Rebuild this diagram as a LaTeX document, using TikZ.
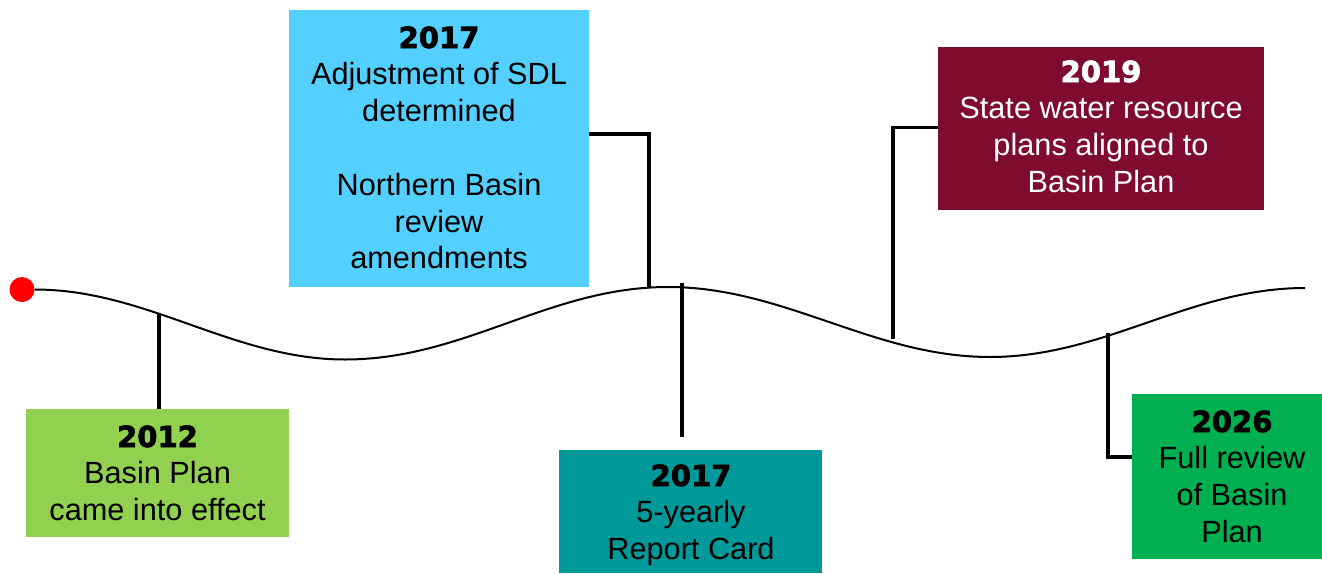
\documentclass[tikz,border=0pt]{standalone}
\usepackage{fontspec}
\setmainfont{Liberation Sans}
\newfontface\yearfont{DejaVu Sans Bold}[FakeBold=2.5]
\definecolor{lgreen}{RGB}{146,208,80}
\definecolor{skyblue}{RGB}{83,208,255}
\definecolor{tealbox}{RGB}{0,153,153}
\definecolor{maroonbox}{RGB}{127,11,46}
\definecolor{greenbox}{RGB}{0,176,80}
\newcommand\yr[1]{{\yearfont\fontsize{29}{36.8}\selectfont #1}}
\tikzset{
  box/.style={draw=none, inner sep=0pt, outer sep=0pt, anchor=north west},
  txt/.style={anchor=base, inner sep=0pt, outer sep=0pt, font=\fontsize{30.7}{36.8}\selectfont},
  conn/.style={line width=3.2pt, black},
  wave/.style={line width=2pt, black},
}
\begin{document}
\begin{tikzpicture}[x=1pt,y=-1pt]
\useasboundingbox (0,0) rectangle (1322,573);
% boxes
\node[box, fill=lgreen, minimum width=263pt, minimum height=128pt] (b2012) at (26,409) {};
\node[box, fill=skyblue, minimum width=300pt, minimum height=277pt] (bsdl) at (289,10) {};
\node[box, fill=tealbox, minimum width=263pt, minimum height=123pt] (breport) at (559,450) {};
\node[box, fill=maroonbox, minimum width=326pt, minimum height=163pt] (b2019) at (938,47) {};
\node[box, fill=greenbox, minimum width=190pt, minimum height=165pt] (b2026) at (1132,394) {};
% texts
\node[txt] (t2012) at (157.5,447) {\begin{tabular}[t]{@{}c@{}}\yr{2012}\\Basin Plan\\came into effect\end{tabular}};
\node[txt] (tsdl) at (439,48) {\begin{tabular}[t]{@{}c@{}}\yr{2017}\\Adjustment of SDL\\determined\\ \\Northern Basin\\review\\amendments\end{tabular}};
\node[txt] (treport) at (691,486) {\begin{tabular}[t]{@{}c@{}}\yr{2017}\\5-yearly\\Report Card\end{tabular}};
\node[txt, text=white] (t2019) at (1101,82) {\begin{tabular}[t]{@{}c@{}}\yr{2019}\\State water resource\\plans aligned to\\Basin Plan\end{tabular}};
\node[txt] (t2026) at (1232,432) {\begin{tabular}[t]{@{}c@{}}\yr{2026}\\Full review\\of Basin\\Plan\end{tabular}};
% start dot and wave
\node[circle, fill=red, minimum size=25pt, inner sep=0pt] (dot) at (22,289.5) {};
\draw[wave] (dot.east) .. controls (147,289.5) and (233,359.5) .. (345,359.5)
  .. controls (465,359.5) and (549,287) .. (668,287)
  .. controls (785,287) and (873,357) .. (990,357)
  .. controls (1105,357) and (1190,288) .. (1305,288);
% points on the wave
\coordinate (w2012) at (159,314);
\coordinate (wsdl) at (649,287);
\coordinate (wrt) at (682,283);
\coordinate (wrb) at (682,437);
\coordinate (w2019) at (893,339);
\coordinate (w2026) at (1108,333);
% connectors
\draw[conn] (w2012) -- (w2012 |- b2012.north);
\draw[conn] ([yshift=14.5pt]bsdl.east) -| (wsdl);
\draw[conn] (wrt) -- (wrb);
\draw[conn] ([yshift=1pt]b2019.west) -| (w2019);
\draw[conn] (w2026) |- ([yshift=19.5pt]b2026.west);
\end{tikzpicture}
\end{document}
